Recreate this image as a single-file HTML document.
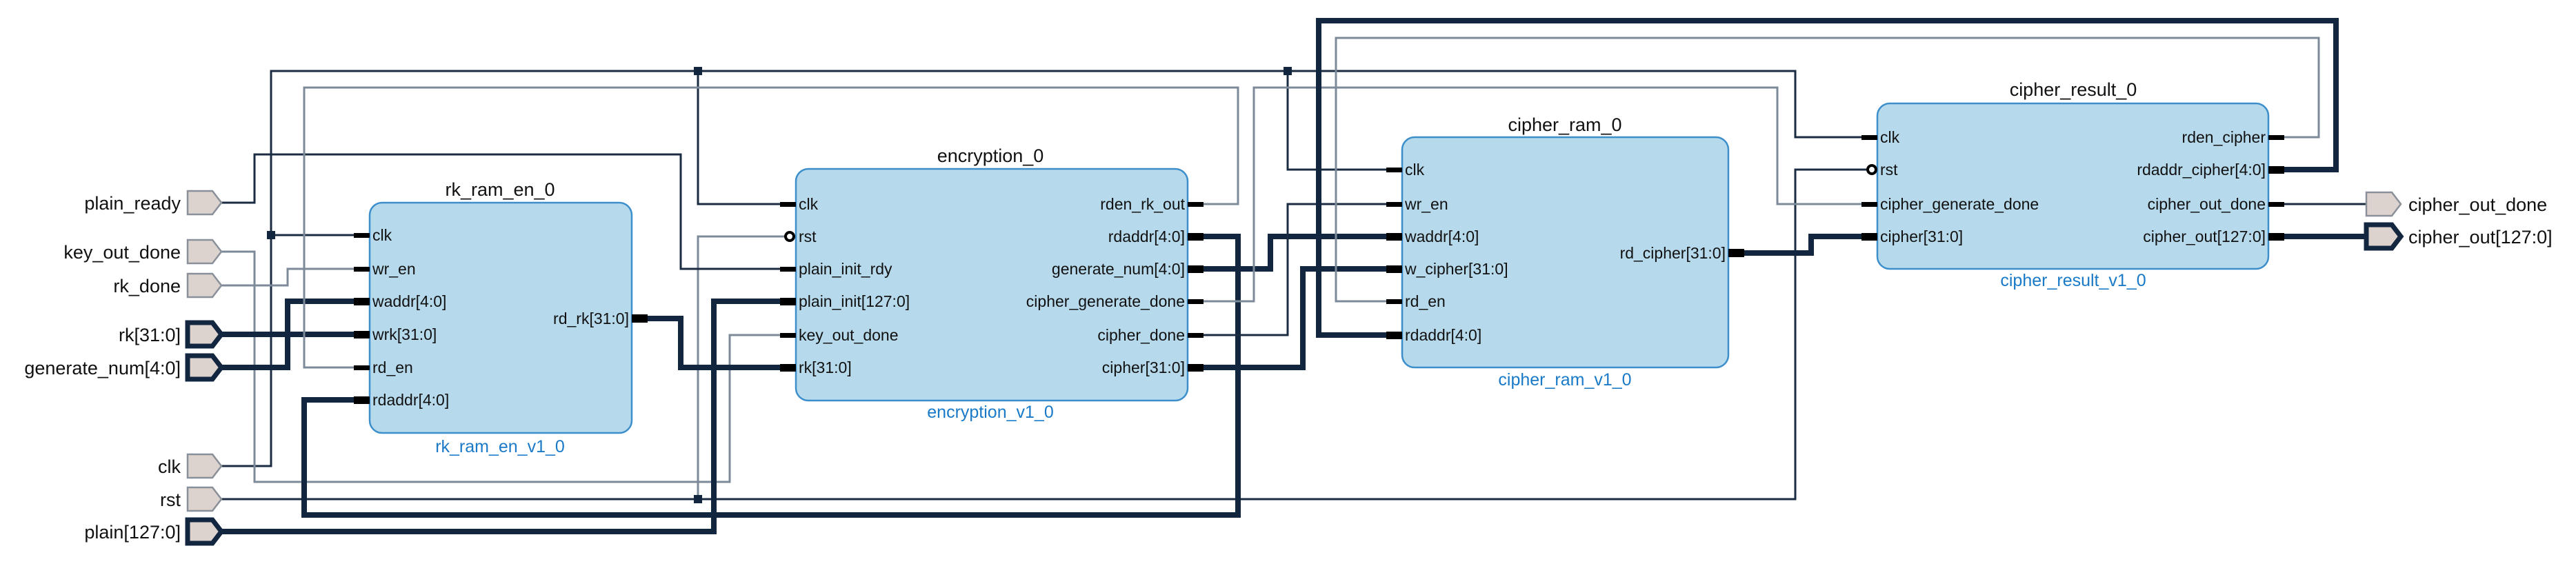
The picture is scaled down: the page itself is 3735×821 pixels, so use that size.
<!DOCTYPE html>
<html><head><meta charset="utf-8"><style>
html,body{margin:0;padding:0;background:#fff;}
svg{display:block;}
text{font-family:"Liberation Sans",Arial,sans-serif;}
.t{font-size:27px;fill:#111;}
.p{font-size:23px;fill:#111;}
.s{font-size:25px;fill:#1a7ac8;}
.w{fill:none;stroke:#1b2b42;stroke-width:3;}
.g{fill:none;stroke:#7c8a99;stroke-width:3;}
.b{fill:none;stroke:#132640;stroke-width:8;}
.blk{fill:#b6d9ec;stroke:#3d8fcb;stroke-width:2.5;}
.pt{fill:#dcd3ce;stroke:#8a9099;stroke-width:2.5;}
.pb{fill:#dcd3ce;stroke:#13263f;stroke-width:7;}
</style></head><body>
<svg width="3735" height="821" viewBox="0 0 3735 821" xmlns="http://www.w3.org/2000/svg">
<rect class="blk" x="536" y="294" width="380" height="334" rx="18"/>
<rect class="blk" x="1154" y="245" width="568" height="336" rx="18"/>
<rect class="blk" x="2033" y="199" width="473" height="334" rx="18"/>
<rect class="blk" x="2722" y="150" width="567" height="240" rx="18"/>

<polyline class="w" points="321,676 393,676 393,103 2603,103 2603,199 2699,199"/>
<polyline class="w" points="393,341 513,341"/>
<polyline class="w" points="1012,103 1012,296 1131,296"/>
<polyline class="w" points="1867,103 1867,246 2010,246"/>
<polyline class="w" points="321,724 2603,724 2603,246 2710,246"/>
<polyline class="g" points="1012,724 1012,343 1140,343"/>
<polyline class="w" points="321,294 369,294 369,224 987,224 987,390 1131,390"/>
<polyline class="g" points="321,365 369,365 369,699 1058,699 1058,486 1131,486"/>
<polyline class="g" points="321,414 417,414 417,390 513,390"/>
<polyline class="b" points="321,485 513,485"/>
<polyline class="b" points="321,533 417,533 417,437 513,437"/>
<polyline class="g" points="513,533 441,533 441,127 1795,127 1795,296 1745,296"/>
<polyline class="b" points="513,580 441,580 441,747 1795,747 1795,343 1745,343"/>
<polyline class="b" points="939,462 987,462 987,533 1131,533"/>
<polyline class="b" points="321,771 1035,771 1035,437 1131,437"/>
<polyline class="b" points="1745,390 1842,390 1842,343 2010,343"/>
<polyline class="g" points="1745,437 1818,437 1818,127 2577,127 2577,296 2699,296"/>
<polyline class="w" points="1745,486 1867,486 1867,296 2010,296"/>
<polyline class="b" points="1745,533 1889,533 1889,390 2010,390"/>
<polyline class="b" points="3312,246 3387,246 3387,30 1912,30 1912,486 2010,486"/>
<polyline class="g" points="3312,199 3362,199 3362,55 1937,55 1937,437 2010,437"/>
<polyline class="b" points="2529,367 2626,367 2626,343 2699,343"/>
<polyline class="w" points="3312,296 3431,296"/>
<polyline class="b" points="3312,343 3431,343"/>

<rect x="387" y="335" width="12" height="12" fill="#13263f"/>
<rect x="1006" y="97" width="12" height="12" fill="#13263f"/>
<rect x="1006" y="718" width="12" height="12" fill="#13263f"/>
<rect x="1861" y="97" width="12" height="12" fill="#13263f"/>

<g fill="#000">
<rect x="513" y="338" width="23" height="7"/><rect x="513" y="387" width="23" height="7"/>
<rect x="513" y="432" width="23" height="11"/><rect x="513" y="480" width="23" height="11"/>
<rect x="513" y="530" width="23" height="7"/><rect x="513" y="575" width="23" height="11"/>
<rect x="916" y="456" width="23" height="12"/>
<rect x="1131" y="293" width="23" height="7"/>
<rect x="1131" y="387" width="23" height="7"/><rect x="1131" y="432" width="23" height="11"/>
<rect x="1131" y="483" width="23" height="7"/><rect x="1131" y="528" width="23" height="11"/>
<rect x="1722" y="293" width="23" height="7"/><rect x="1722" y="338" width="23" height="11"/>
<rect x="1722" y="385" width="23" height="11"/><rect x="1722" y="434" width="23" height="7"/>
<rect x="1722" y="483" width="23" height="7"/><rect x="1722" y="528" width="23" height="11"/>
<rect x="2010" y="243" width="23" height="7"/><rect x="2010" y="293" width="23" height="7"/>
<rect x="2010" y="338" width="23" height="11"/><rect x="2010" y="385" width="23" height="11"/>
<rect x="2010" y="434" width="23" height="7"/><rect x="2010" y="481" width="23" height="11"/>
<rect x="2506" y="361" width="23" height="12"/>
<rect x="2699" y="196" width="23" height="7"/>
<rect x="2699" y="293" width="23" height="7"/><rect x="2699" y="338" width="23" height="11"/>
<rect x="3289" y="196" width="23" height="7"/><rect x="3289" y="241" width="23" height="11"/>
<rect x="3289" y="293" width="23" height="7"/><rect x="3289" y="338" width="23" height="11"/>
</g>
<circle cx="1145" cy="343" r="6" fill="#fff" stroke="#000" stroke-width="4"/>
<circle cx="2714" cy="246" r="6" fill="#fff" stroke="#000" stroke-width="4"/>

<polygon class="pt" points="272,277 308,277 321,294 308,311 272,311"/>
<polygon class="pt" points="272,348 308,348 321,365 308,382 272,382"/>
<polygon class="pt" points="272,397 308,397 321,414 308,431 272,431"/>
<polygon class="pb" points="272,468 308,468 321,485 308,502 272,502"/>
<polygon class="pb" points="272,516 308,516 321,533 308,550 272,550"/>
<polygon class="pt" points="272,659 308,659 321,676 308,693 272,693"/>
<polygon class="pt" points="272,707 308,707 321,724 308,741 272,741"/>
<polygon class="pb" points="272,754 308,754 321,771 308,788 272,788"/>
<polygon class="pt" points="3431,279 3468,279 3481,296 3468,313 3431,313"/>
<polygon class="pb" points="3431,326 3468,326 3481,343 3468,360 3431,360"/>

<g class="t" text-anchor="end">
<text x="262" y="304">plain_ready</text>
<text x="262" y="375">key_out_done</text>
<text x="262" y="424">rk_done</text>
<text x="262" y="495">rk[31:0]</text>
<text x="262" y="543">generate_num[4:0]</text>
<text x="262" y="686">clk</text>
<text x="262" y="734">rst</text>
<text x="262" y="781">plain[127:0]</text>
</g>
<g class="t">
<text x="3492" y="306">cipher_out_done</text>
<text x="3492" y="353">cipher_out[127:0]</text>
</g>

<g class="t" text-anchor="middle">
<text x="725" y="284">rk_ram_en_0</text>
<text x="1436" y="235">encryption_0</text>
<text x="2269" y="190">cipher_ram_0</text>
<text x="3006" y="139">cipher_result_0</text>
</g>
<g class="s" text-anchor="middle">
<text x="725" y="656">rk_ram_en_v1_0</text>
<text x="1436" y="606">encryption_v1_0</text>
<text x="2269" y="559">cipher_ram_v1_0</text>
<text x="3006" y="415">cipher_result_v1_0</text>
</g>

<g class="p">
<text x="540" y="349">clk</text><text x="540" y="398">wr_en</text>
<text x="540" y="445">waddr[4:0]</text><text x="540" y="493">wrk[31:0]</text>
<text x="540" y="541">rd_en</text><text x="540" y="588">rdaddr[4:0]</text>
<text x="1158" y="304">clk</text><text x="1158" y="351">rst</text>
<text x="1158" y="398">plain_init_rdy</text><text x="1158" y="445">plain_init[127:0]</text>
<text x="1158" y="494">key_out_done</text><text x="1158" y="541">rk[31:0]</text>
<text x="2037" y="254">clk</text><text x="2037" y="304">wr_en</text>
<text x="2037" y="351">waddr[4:0]</text><text x="2037" y="398">w_cipher[31:0]</text>
<text x="2037" y="445">rd_en</text><text x="2037" y="494">rdaddr[4:0]</text>
<text x="2726" y="207">clk</text><text x="2726" y="254">rst</text>
<text x="2726" y="304">cipher_generate_done</text><text x="2726" y="351">cipher[31:0]</text>
</g>
<g class="p" text-anchor="end">
<text x="912" y="470">rd_rk[31:0]</text>
<text x="1718" y="304">rden_rk_out</text><text x="1718" y="351">rdaddr[4:0]</text>
<text x="1718" y="398">generate_num[4:0]</text><text x="1718" y="445">cipher_generate_done</text>
<text x="1718" y="494">cipher_done</text><text x="1718" y="541">cipher[31:0]</text>
<text x="2502" y="375">rd_cipher[31:0]</text>
<text x="3285" y="207">rden_cipher</text><text x="3285" y="254">rdaddr_cipher[4:0]</text>
<text x="3285" y="304">cipher_out_done</text><text x="3285" y="351">cipher_out[127:0]</text>
</g>
</svg>
</body></html>
